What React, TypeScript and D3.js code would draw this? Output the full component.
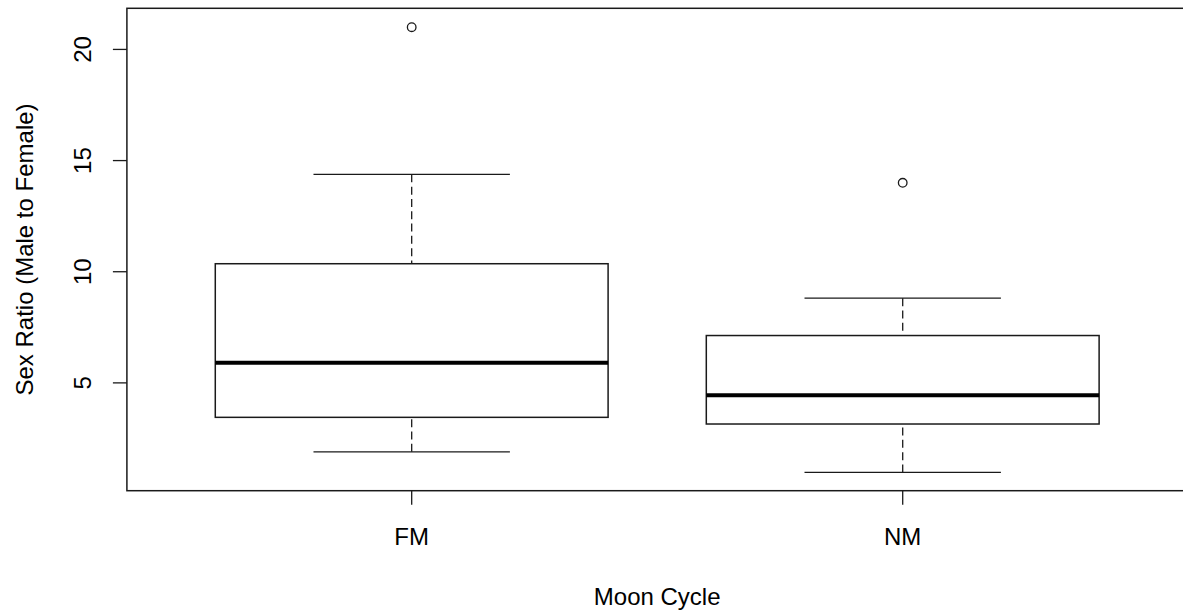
import React from "react";
import * as d3 from "d3";

const categories = ["FM", "NM"];
const lowerWhisker = [1.9, 0.97];
const q1 = [3.45, 3.15];
const median = [5.91, 4.44];
const q3 = [10.36, 7.13];
const upperWhisker = [14.38, 8.81];
const outlierCategory = ["FM", "NM"];
const outlierValue = [21, 14];
const yTicks = [5, 10, 15, 20];

const W = 1183;
const H = 614;
const FONT = "'Liberation Sans', Arial, Helvetica, sans-serif";
const FS = 24;

export default function App() {
  const x = d3.scaleLinear().domain([0.42, 2.58]).range([126.9, 1187.5]);
  const y = d3.scaleLinear().domain([0.15, 21.85]).range([490.7, 8.3]);
  const pos = (c: string) => categories.indexOf(c) + 1;
  const boxHalf = 0.4;
  const capHalf = 0.2;
  const stroke = "#1a1a1a";

  const [x0, x1] = x.range();
  const [yb, yt] = y.range();

  return (
    <svg
      width={W}
      height={H}
      style={{ position: "absolute", left: 0, top: 0, background: "#fff" }}
      fontFamily={FONT}
    >
      <rect x={0} y={0} width={W} height={H} fill="#fff" />
      {categories.map((c, i) => {
        const cx = x(pos(c));
        const bl = x(pos(c) - boxHalf);
        const br = x(pos(c) + boxHalf);
        const cl = x(pos(c) - capHalf);
        const cr = x(pos(c) + capHalf);
        return (
          <g key={c}>
            <line x1={cx} x2={cx} y1={y(upperWhisker[i])} y2={y(q3[i])} stroke={stroke} strokeWidth={1.3} strokeDasharray="8 4.3" />
            <line x1={cx} x2={cx} y1={y(lowerWhisker[i])} y2={y(q1[i])} stroke={stroke} strokeWidth={1.3} strokeDasharray="8 4.3" />
            <line x1={cl} x2={cr} y1={y(upperWhisker[i])} y2={y(upperWhisker[i])} stroke={stroke} strokeWidth={1.3} />
            <line x1={cl} x2={cr} y1={y(lowerWhisker[i])} y2={y(lowerWhisker[i])} stroke={stroke} strokeWidth={1.3} />
            <rect x={bl} y={y(q3[i])} width={br - bl} height={y(q1[i]) - y(q3[i])} fill="none" stroke={stroke} strokeWidth={1.5} />
            <line x1={bl} x2={br} y1={y(median[i])} y2={y(median[i])} stroke="#000" strokeWidth={4} />
          </g>
        );
      })}
      {outlierValue.map((v, i) => (
        <circle key={i} cx={x(pos(outlierCategory[i]))} cy={y(v)} r={4.3} fill="none" stroke={stroke} strokeWidth={1.3} />
      ))}
      <rect x={x0} y={yt} width={x1 - x0} height={yb - yt} fill="none" stroke={stroke} strokeWidth={1.5} />
      {yTicks.map((t) => (
        <g key={t}>
          <line x1={x0 - 14} x2={x0} y1={y(t)} y2={y(t)} stroke={stroke} strokeWidth={1.3} />
          <text transform={`translate(91,${y(t)}) rotate(-90)`} textAnchor="middle" fontSize={FS} fill="#000">
            {t}
          </text>
        </g>
      ))}
      {categories.map((c) => (
        <g key={c}>
          <line x1={x(pos(c))} x2={x(pos(c))} y1={yb} y2={yb + 14} stroke={stroke} strokeWidth={1.3} />
          <text x={x(pos(c))} y={545} textAnchor="middle" fontSize={FS} fill="#000">
            {c}
          </text>
        </g>
      ))}
      <text x={(x0 + x1) / 2} y={605} textAnchor="middle" fontSize={FS} fill="#000">
        Moon Cycle
      </text>
      <text transform={`translate(33,${(yt + yb) / 2}) rotate(-90)`} textAnchor="middle" fontSize={FS} fill="#000">
        Sex Ratio (Male to Female)
      </text>
    </svg>
  );
}
